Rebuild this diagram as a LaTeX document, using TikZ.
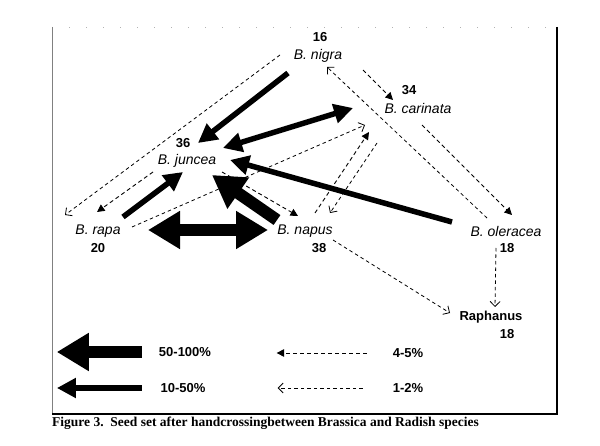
\documentclass[tikz,border=0pt]{standalone}
\usepackage{fontspec}
\setmainfont{Liberation Serif}
\newfontfamily\arialfont{Liberation Sans}
\usetikzlibrary{arrows.meta}

\tikzset{
  species/.style={font=\arialfont\fontsize{14}{16}\selectfont\itshape,inner sep=1pt},
  chromo/.style={font=\arialfont\bfseries\fontsize{13}{15}\selectfont,inner sep=1pt},
  keytext/.style={font=\arialfont\bfseries\fontsize{13}{15}\selectfont,inner sep=1pt},
  heavy/.style={line width=12pt,-{Triangle[length=32pt,width=36pt]}},
  heavyboth/.style={line width=12pt,{Triangle[length=32pt,width=36pt]}-{Triangle[length=32pt,width=36pt]}},
  medium/.style={line width=5.5pt,-{Triangle[length=19pt,width=19pt]}},
  mediumboth/.style={line width=5.5pt,{Triangle[length=19pt,width=19pt]}-{Triangle[length=19pt,width=19pt]}},
  weak/.style={line width=0.9pt,dash pattern=on 4pt off 3pt,-{Triangle[length=7.5pt,width=7.5pt]}},
  faint/.style={line width=0.8pt,dash pattern=on 3.5pt off 3pt,-{Straight Barb[length=5pt,width=10pt]}},
}

\begin{document}
\begin{tikzpicture}[x=1pt,y=-1pt]
                \useasboundingbox (0,0) rectangle (600,446);
                % frame
                \draw[gray!60,line width=0.5pt,dash pattern=on 1pt off 16pt] (52,27) -- (557,27);
                \draw[gray,line width=0.6pt] (52,27) -- (52,414);
                \draw[line width=1.5pt] (557,27) -- (557,414);
                \draw[line width=2pt] (52,414) -- (557.75,414);
                % species and chromosome numbers
                \node[chromo] (n16) at (320,37) {16};
                \node[species] (nigra) at (318,56) {B. nigra};
                \node[chromo] (n34) at (409,90) {34};
                \node[species] (carinata) at (418,108) {B. carinata};
                \node[chromo] (n36) at (183,143) {36};
                \node[species] (juncea) at (187,161) {B. juncea};
                \node[species] (rapa) at (98,231) {B. rapa};
                \node[chromo] (n20) at (98,248) {20};
                \node[species] (napus) at (305,231) {B. napus};
                \node[chromo] (n38) at (319,248) {38};
                \node[species] (oleracea) at (506,231) {B. oleracea};
                \node[chromo] (n18a) at (507,248) {18};
                \node[chromo] (raphanus) at (491,317) {Raphanus};
                \node[chromo] (n18b) at (507,334) {18};
                % heavy crosses
                \draw[heavy] ([shift={(-28,-11)}]napus.center) -- ([shift={(25,14)}]juncea.center);
                \draw[heavyboth] ([shift={(50,-1)}]rapa.center) -- ([shift={(-37,-1)}]napus.center);
                % medium crosses
                \draw[medium] ([shift={(-30,17)}]nigra.center) -- ([shift={(11,-18)}]juncea.center);
                \draw[mediumboth] ([shift={(36,-13)}]juncea.center) -- ([shift={(-65,0)}]carinata.center);
                \draw[medium] ([shift={(-54,-9)}]oleracea.center) -- ([shift={(43,-1)}]juncea.center);
                \draw[medium] ([shift={(25,-14)}]rapa.center) -- ([shift={(-4,11)}]juncea.center);
                % 4-5%
                \draw[weak] ([shift={(-34,11)}]juncea.center) -- ([shift={(-1,-19)}]rapa.center);
                \draw[weak] ([shift={(35,11)}]juncea.center) -- ([shift={(-7,-15)}]napus.center);
                \draw[weak] ([shift={(10,-18)}]napus.center) -- ([shift={(-49,24)}]carinata.center);
                \draw[weak] ([shift={(45,14)}]nigra.center) -- ([shift={(-25,-8)}]carinata.center);
                \draw[weak] ([shift={(4,17)}]carinata.center) -- ([shift={(6,-16)}]oleracea.center);
                % 1-2%
                \draw[faint] ([shift={(-38,-1)}]nigra.center) -- ([shift={(-33,-16)}]rapa.center);
                \draw[faint] ([shift={(34,-4)}]rapa.center) -- ([shift={(-53,17)}]carinata.center);
                \draw[faint] ([shift={(-41,35)}]carinata.center) -- ([shift={(25,-18)}]napus.center);
                \draw[faint] ([shift={(-19,-13)}]oleracea.center) -- ([shift={(9,11)}]nigra.center);
                \draw[faint] ([shift={(-11,0)}]n18a.center) -- ([shift={(4,-10)}]raphanus.center);
                \draw[faint] ([shift={(28,9)}]napus.center) -- ([shift={(-41,-4)}]raphanus.center);
                % key
                \node[keytext] (k50) at (185,352) {50-100\%};
                \node[keytext] (k10) at (183,388) {10-50\%};
                \node[keytext] (k4) at (408,353) {4-5\%};
                \node[keytext] (k1) at (408,388) {1-2\%};
                \draw[heavy] ([xshift=-16pt]k50.west) -- ++(-85,0);
                \draw[medium] ([xshift=-17.5pt]k10.west) -- ++(-85,0);
                \draw[weak] ([xshift=-25pt]k4.west) -- ++(-90,0);
                \draw[faint] ([xshift=-29pt]k1.west) -- ++(-85,0);
                % caption
                \node[anchor=west,inner sep=0pt,font=\bfseries\fontsize{13.5}{15}\selectfont] (caption) at (52,423)
                    {Figure 3.~~Seed set after handcrossingbetween Brassica and Radish species};
\end{tikzpicture}
\end{document}
